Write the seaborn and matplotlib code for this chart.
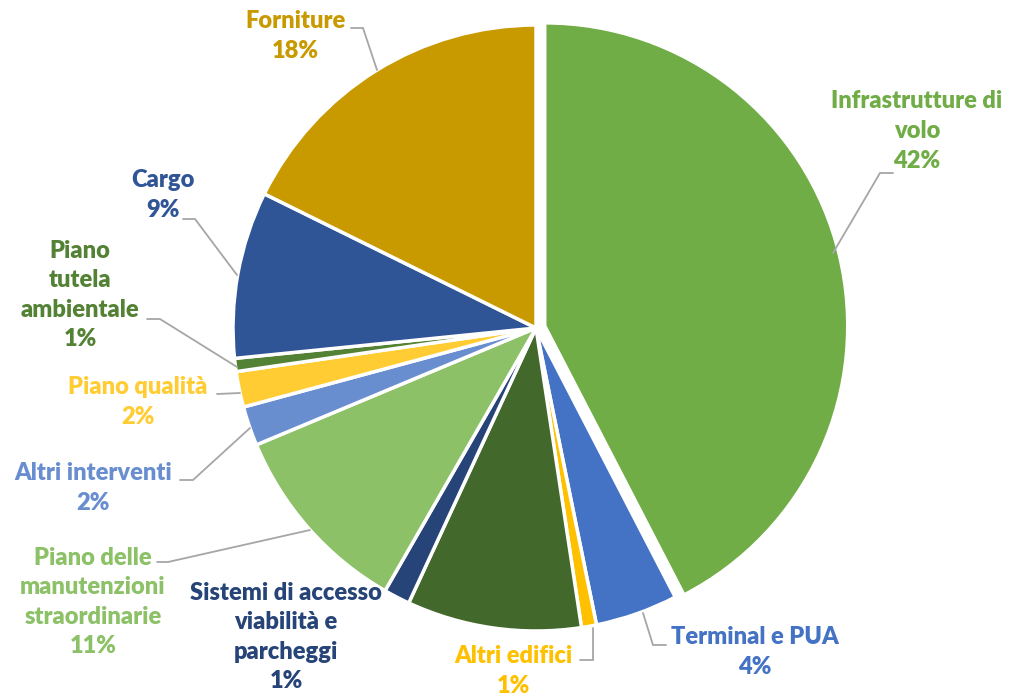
import matplotlib
matplotlib.use("Agg")
import matplotlib.pyplot as plt
import seaborn as sns

# ---- data (clockwise from 12 o'clock) ----
categories = [
    "Infrastrutture di volo", "Terminal e PUA", "Altri edifici", "",
    "Sistemi di accesso viabilità e parcheggi", "Piano delle manutenzioni straordinarie",
    "Altri interventi", "Piano qualità", "Piano tutela ambientale", "Cargo", "Forniture",
]
values = [42.4, 4.4, 0.8, 9.3, 1.4, 10.4, 2.1, 1.9, 0.7, 8.9, 17.7]
pct_labels = ["42%", "4%", "1%", "", "1%", "11%", "2%", "2%", "1%", "9%", "18%"]
label_texts = [
    "Infrastrutture di\nvolo\n42%", "Terminal e PUA\n4%", "Altri edifici\n1%", "",
    "Sistemi di accesso\nviabilità e\nparcheggi\n1%", "Piano delle\nmanutenzioni\nstraordinarie\n11%",
    "Altri interventi\n2%", "Piano qualità\n2%", "Piano\ntutela\nambientale\n1%", "Cargo\n9%",
    "Forniture\n18%",
]
colors = ["#70AD47", "#4472C4", "#FFC000", "#43682B", "#264478", "#8CC168",
          "#698ED0", "#FFCD33", "#548235", "#2F5597", "#C99A00"]

sns.set_theme(style="white")
plt.rcParams["font.family"] = ["Lato", "DejaVu Sans"]
palette = sns.color_palette(colors)

W, H = 1013, 699
fig = plt.figure(figsize=(W / 100, H / 100), dpi=100)
ax = fig.add_axes([0, 0, 1, 1])

def Y(py):
    return H - py

radius = 303
center = (536, Y(328))
explode = [9] + [0] * (len(values) - 1)   # offset in data (pixel) units
ax.pie(values, colors=palette, startangle=90, counterclock=False, radius=radius,
       center=center, explode=explode, frame=True,
       wedgeprops=dict(edgecolor="white", linewidth=2.5))
ax.set_xlim(0, W)
ax.set_ylim(0, H)
ax.set_aspect("equal")
ax.axis("off")

# label positions (text block centers) in pixel coords
label_pos = [
    (917, 131), (755, 652), (513, 671), None,
    (286, 637), (93, 602), (93, 488), (138, 402), (80, 295), (163, 195), (295, 36),
]
for txt, pos, col in zip(label_texts, label_pos, colors):
    if pos is None or not txt:
        continue
    ax.text(pos[0], Y(pos[1]), txt, ha="center", va="center", color=col,
            fontsize=17, fontweight=800, linespacing=1.42)

leaders = [
    [(893, 173), (880, 173), (833, 253)],
    [(666, 645), (653, 645), (643, 613)],
    [(580, 660), (593, 660), (593, 628)],
    None, None,
    [(157, 562), (168, 562), (310, 530)],
    [(180, 480), (193, 480), (250, 428)],
    [(217, 394), (240, 393)],
    [(147, 319), (160, 319), (237, 367)],
    [(183, 219), (195, 219), (237, 275)],
    [(351, 28), (363, 28), (377, 70)],
]
for pts in leaders:
    if pts is None:
        continue
    ax.plot([p[0] for p in pts], [Y(p[1]) for p in pts], color="#A6A6A6", lw=1.3,
            solid_joinstyle="miter")

fig.savefig("out.png", dpi=100)
